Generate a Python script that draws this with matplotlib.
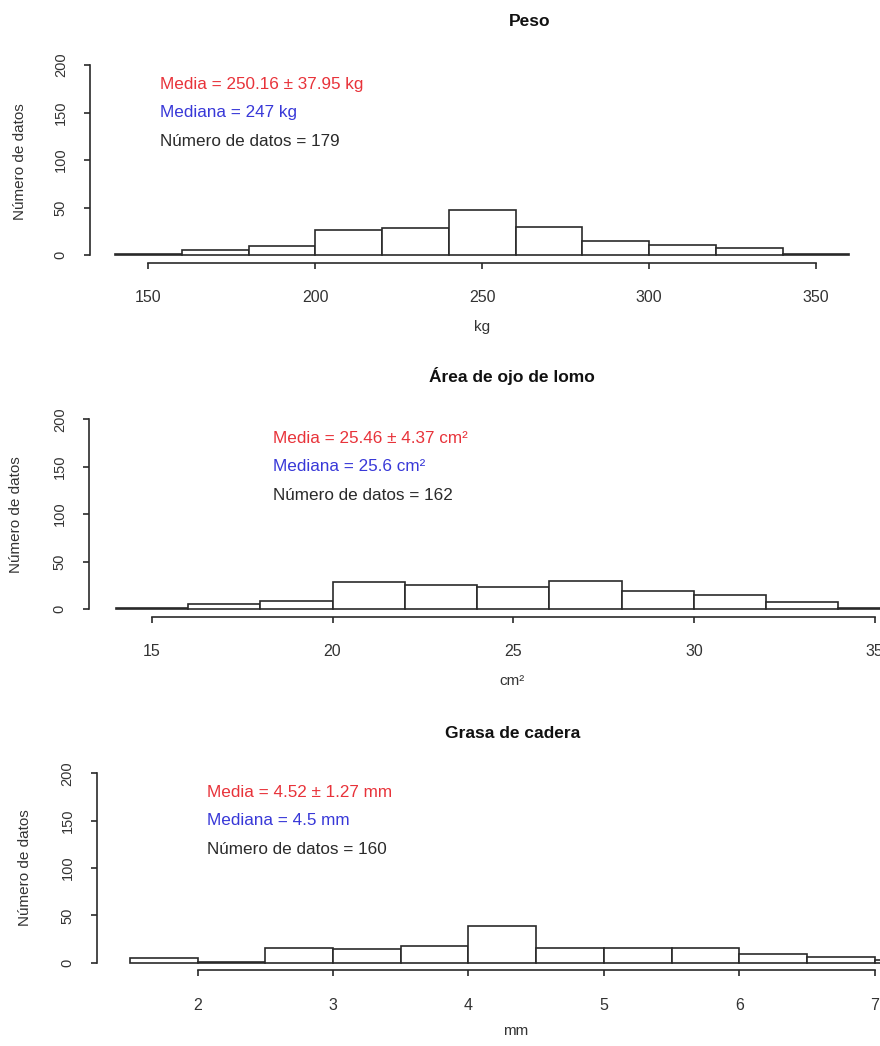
import numpy as np
import matplotlib.pyplot as plt

plt.rcParams['font.family'] = ['Liberation Sans', 'DejaVu Sans']

# histogram data
peso_bins = [140, 160, 180, 200, 220, 240, 260, 280, 300, 320, 340, 360]
peso_counts = [1, 5, 9, 26, 28, 47, 29, 15, 11, 7, 1]
peso_ticks = [150, 200, 250, 300, 350]

aol_bins = [14, 16, 18, 20, 22, 24, 26, 28, 30, 32, 34, 36]
aol_counts = [1, 5, 8, 28, 25, 23, 30, 19, 15, 7, 1]
aol_ticks = [15, 20, 25, 30, 35]

grasa_bins = [1.5, 2.0, 2.5, 3.0, 3.5, 4.0, 4.5, 5.0, 5.5, 6.0, 6.5, 7.0, 7.5]
grasa_counts = [5, 1, 16, 15, 18, 39, 16, 16, 16, 9, 6, 3]
grasa_ticks = [2, 3, 4, 5, 6, 7]

y_ticks = [0, 50, 100, 150, 200]

titles = ['Peso', 'Área de ojo de lomo', 'Grasa de cadera']
xlabels = ['kg', 'cm²', 'mm']
media_txt = ['Media = 250.16 ± 37.95 kg', 'Media = 25.46 ± 4.37 cm²', 'Media = 4.52 ± 1.27 mm']
mediana_txt = ['Mediana = 247 kg', 'Mediana = 25.6 cm²', 'Mediana = 4.5 mm']
n_txt = ['Número de datos = 179', 'Número de datos = 162', 'Número de datos = 160']

W, H = 880, 1046
fig = plt.figure(figsize=(W / 100, H / 100), dpi=100)

def px(x, y):
    return x / W, 1 - y / H

# left px, top px, bottom px, xlim, text x, title pos, xlabel pos, ylabel pos
layout = [
    (90, 57.4, 262.6, (132.5, 369.2), 153.5, (530, 22), (482, 327), (20, 162)),
    (89, 411.7, 616.6, (13.26, 35.15), 18.34, (512, 376), (512, 681), (16, 515)),
    (96.7, 765.7, 970.3, (1.256, 7.037), 2.07, (513, 734), (516, 1031), (25, 868)),
]
data = [(peso_bins, peso_counts, peso_ticks),
        (aol_bins, aol_counts, aol_ticks),
        (grasa_bins, grasa_counts, grasa_ticks)]

ink = '#2a2a2a'
for i, (lay, (bins, counts, xt)) in enumerate(zip(layout, data)):
    left, top, bot, xl, tx, tpos, xlpos, ylpos = lay
    ax = fig.add_axes([left / W, 1 - bot / H, (W - left) / W, (bot - top) / H])
    b = np.array(bins)
    ax.bar(b[:-1], counts, width=np.diff(b), align='edge', facecolor='white',
           edgecolor=ink, linewidth=1.2, clip_on=False)
    ax.set_xlim(*xl)
    ax.set_ylim(-8, 208)
    for s in ['top', 'right']:
        ax.spines[s].set_visible(False)
    for s in ['left', 'bottom']:
        ax.spines[s].set_color(ink)
        ax.spines[s].set_linewidth(1.2)
    ax.spines['left'].set_bounds(0, 200)
    ax.spines['bottom'].set_bounds(xt[0], xt[-1])
    ax.set_xticks(xt)
    ax.set_yticks(y_ticks)
    ax.tick_params(axis='both', direction='out', length=4, width=1.2, color=ink,
                   labelcolor='#333333')
    ax.tick_params(axis='x', labelsize=11.5, pad=16)
    ax.tick_params(axis='y', labelsize=10.5, pad=12)
    for lab in ax.get_yticklabels():
        lab.set_rotation(90)
        lab.set_va('center')

    ax.text(tx, 180, media_txt[i], color='#e8333a', fontsize=12.3, va='center')
    ax.text(tx, 150, mediana_txt[i], color='#3838d8', fontsize=12.3, va='center')
    ax.text(tx, 120, n_txt[i], color=ink, fontsize=12.3, va='center')

    fig.text(*px(*tpos), titles[i], fontsize=12.5, fontweight='bold',
             ha='center', va='center', color='#111111')
    fig.text(*px(*xlpos), xlabels[i], fontsize=11, ha='center', va='center',
             color='#333333')
    fig.text(*px(*ylpos), 'Número de datos', fontsize=11, rotation=90,
             ha='center', va='center', color='#333333')

fig.savefig('out.png', dpi=100)
